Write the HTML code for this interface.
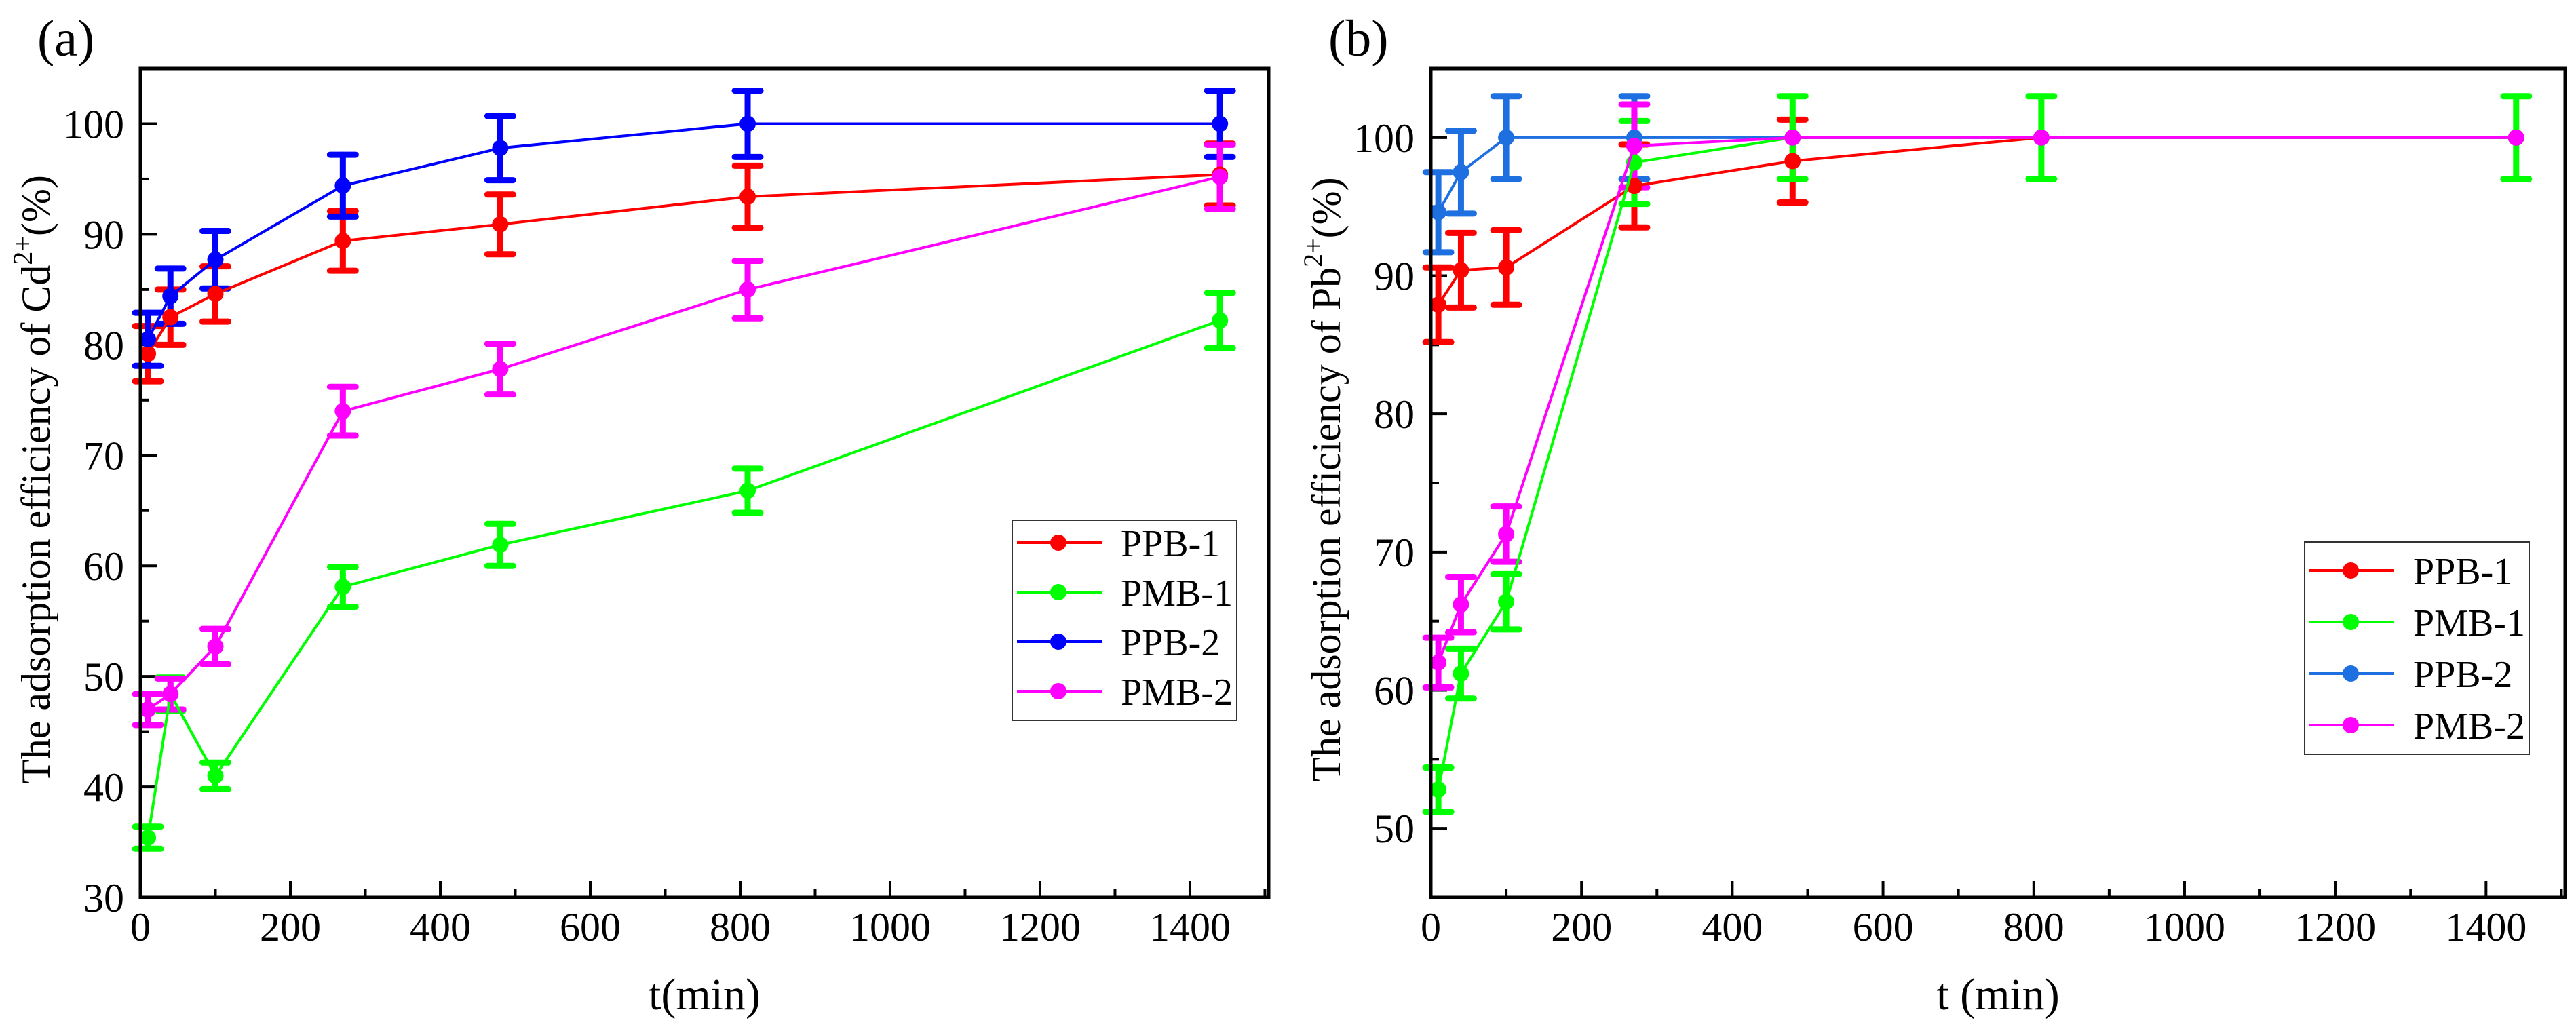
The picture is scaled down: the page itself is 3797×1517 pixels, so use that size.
<!DOCTYPE html>
<html><head><meta charset="utf-8">
<style>html,body{margin:0;padding:0;background:#fff;}svg{display:block;font-family:"Liberation Serif",serif;}</style>
</head><body>
<svg id="fig" width="3797" height="1517" viewBox="0 0 3797 1517"></svg>
<script>
const times = [10, 40, 100, 270, 480, 810, 1440];
const seriesNames = ["PPB-1", "PMB-1", "PPB-2", "PMB-2"];
// Panel (a) Cd2+
const aPPB1 = [79.2, 82.5, 84.6, 89.4, 90.9, 93.4, 95.4];
const aPPB1Err = [2.5, 2.5, 2.5, 2.7, 2.7, 2.8, 2.8];
const aPMB1 = [35.4, 48.4, 41.0, 58.1, 61.9, 66.8, 82.2];
const aPMB1Err = [1.0, 1.5, 1.2, 1.8, 1.9, 2.0, 2.5];
const aPPB2 = [80.5, 84.4, 87.7, 94.4, 97.8, 100, 100];
const aPPB2Err = [2.4, 2.5, 2.6, 2.8, 2.9, 3.0, 3.0];
const aPMB2 = [47.0, 48.4, 52.7, 74.0, 77.8, 85.0, 95.2];
const aPMB2Err = [1.4, 1.4, 1.6, 2.2, 2.3, 2.6, 2.9];
// Panel (b) Pb2+
const bPPB1 = [87.9, 90.4, 90.6, 96.5, 98.3, 100, 100];
const bPPB1Err = [2.7, 2.7, 2.7, 3.0, 3.0, 0, 0];
const bPMB1 = [52.8, 61.2, 66.4, 98.2, 100, 100, 100];
const bPMB1Err = [1.6, 1.8, 2.0, 3.0, 3.0, 3.0, 3.0];
const bPPB2 = [94.6, 97.5, 100, 100, 100, 100, 100];
const bPPB2Err = [2.9, 3.0, 3.0, 3.0, 0, 0, 0];
const bPMB2 = [62.0, 66.2, 71.3, 99.4, 100, 100, 100];
const bPMB2Err = [1.8, 2.0, 2.0, 3.0, 0, 0, 0];
const xTicks = [0, 200, 400, 600, 800, 1000, 1200, 1400];
const aYTicks = [30, 40, 50, 60, 70, 80, 90, 100];
const bYTicks = [50, 60, 70, 80, 90, 100];

const NS = "http://www.w3.org/2000/svg";
const svg = document.getElementById("fig");
function mk(tag, attrs, parent) {
  const e = document.createElementNS(NS, tag);
  for (const k in attrs) e.setAttribute(k, attrs[k]);
  (parent || svg).appendChild(e);
  return e;
}

function panel(cfg) {
  const g = mk("g", {});
  
  
  const L = cfg.L, R = cfg.R, T = 101, B = 1323;
  const xs = v => L + (v - 0) / (1505 - 0) * (R - L);
  const ys = v => B - (v - cfg.ymin) / (cfg.ymax - cfg.ymin) * (B - T);
  for (let v = 100; v <= 1500; v += 100) {
    const major = v % 200 === 0;
    const t = mk("line", {x1: xs(v), x2: xs(v), y1: B, y2: B - (major ? 24 : 12), stroke: "#000", "stroke-width": 4}, g);
    
    
  }
  xTicks.forEach(v => {
    const t = mk("text", {x: xs(v), y: 1387, "font-size": 60, "text-anchor": "middle"}, g);
    t.textContent = v;
    
    
  });
  for (let v = cfg.ymin + 5; v < cfg.ymax; v += 5) {
    const major = v % 10 === 0;
    const t = mk("line", {x1: L, x2: L + (major ? 24 : 12), y1: ys(v), y2: ys(v), stroke: "#000", "stroke-width": 4}, g);
    
    
  }
  cfg.yTicks.forEach(v => {
    const t = mk("text", {x: L - 24, y: ys(v) + 21, "font-size": 60, "text-anchor": "end"}, g);
    t.textContent = v;
    
    
  });
  cfg.series.forEach(s => {
    s.vals.forEach((v, i) => {
      const e = s.err[i];
      if (!e) return;
      const x = xs(times[i]);
      const eb = mk("g", {stroke: s.color, "stroke-width": 9, "stroke-linecap": "round"}, g);
      
      
      mk("line", {x1: x, x2: x, y1: ys(v - e), y2: ys(v + e)}, eb);
      mk("line", {x1: x - 19, x2: x + 19, y1: ys(v - e), y2: ys(v - e)}, eb);
      mk("line", {x1: x - 19, x2: x + 19, y1: ys(v + e), y2: ys(v + e)}, eb);
    });
  });
  cfg.series.forEach(s => {
    const pts = s.vals.map((v, i) => xs(times[i]) + "," + ys(v)).join(" ");
    const pl = mk("polyline", {points: pts, fill: "none", stroke: s.color, "stroke-width": 4}, g);
    
    
    s.vals.forEach((v, i) => {
      const c = mk("circle", {cx: xs(times[i]), cy: ys(v), r: 12, fill: s.color}, g);
      
      
    });
  });
  const fr = mk("rect", {x: L, y: T, width: R - L, height: B - T, fill: "none", stroke: "#000", "stroke-width": 5}, g);
  
  
  const lg = mk("g", {}, g);
  
  
  const lx = cfg.legX, ly = cfg.legY;
  mk("rect", {x: lx, y: ly, width: 331, height: cfg.legH, fill: "#fff", stroke: "#333", "stroke-width": 2}, lg);
  cfg.legColors.forEach((col, k) => {
    const yy = ly + cfg.legOff + k * cfg.legStep;
    const en = mk("g", {}, lg);
    
    
    mk("line", {x1: lx + 7, x2: lx + 132, y1: yy, y2: yy, stroke: col, "stroke-width": 4}, en);
    mk("circle", {cx: lx + 68, cy: yy, r: 12, fill: col}, en);
    const t = mk("text", {x: lx + 160, y: yy + 20, "font-size": 56}, en);
    t.textContent = seriesNames[k];
  });
  const xt = mk("text", {x: (L + R) / 2, y: 1488, "font-size": 66, "text-anchor": "middle"}, g);
  xt.textContent = cfg.xTitle;
  
  
  const yt = mk("text", {x: 0, y: 0, "font-size": 60, "text-anchor": "middle", transform: "translate(" + (L - 134) + ",707) rotate(-90)"}, g);
  
  
  yt.appendChild(document.createTextNode("The adsorption efficiency of " + cfg.ion));
  const sup = mk("tspan", {"font-size": 40, dy: -26}, yt);
  sup.textContent = "2+";
  const rest = mk("tspan", {dy: 26}, yt);
  rest.textContent = "(%)";
  const pl = mk("text", {x: cfg.labX, y: 82, "font-size": 76}, g);
  pl.textContent = cfg.label;
  
  
}

panel({name: "panel-a", L: 207, R: 1870, ymin: 30, ymax: 105, yTicks: aYTicks, label: "(a)", labX: 55,
  ion: "Cd", xTitle: "t(min)", legX: 1492, legY: 767, legH: 295, legStep: 73, legOff: 33,
  legColors: ["#ff0000", "#00ff00", "#0000ff", "#ff00ff"],
  series: [
    {vals: aPPB1, err: aPPB1Err, color: "#ff0000"},
    {vals: aPMB1, err: aPMB1Err, color: "#00ff00"},
    {vals: aPPB2, err: aPPB2Err, color: "#0000ff"},
    {vals: aPMB2, err: aPMB2Err, color: "#ff00ff"}]});
panel({name: "panel-b", L: 2109, R: 3781, ymin: 45, ymax: 105, yTicks: bYTicks, label: "(b)", labX: 1958,
  ion: "Pb", xTitle: "t (min)", legX: 3397, legY: 799, legH: 313, legStep: 76, legOff: 42,
  legColors: ["#ff0000", "#00ff00", "#1e6fdf", "#ff00ff"],
  series: [
    {vals: bPPB1, err: bPPB1Err, color: "#ff0000"},
    {vals: bPPB2, err: bPPB2Err, color: "#1e6fdf"},
    {vals: bPMB1, err: bPMB1Err, color: "#00ff00"},
    {vals: bPMB2, err: bPMB2Err, color: "#ff00ff"}]});
</script>
</body></html>
